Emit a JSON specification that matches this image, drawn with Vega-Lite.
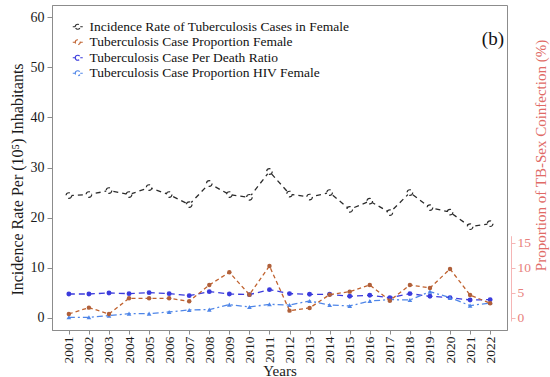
{
  "$schema": "https://vega.github.io/schema/vega-lite/v6.json",
  "width": 455,
  "height": 325,
  "autosize": {"type": "none"},
  "padding": {"left": 52, "top": 5, "right": 43, "bottom": 47},
  "background": "white",
  "config": {
    "font": "Liberation Serif",
    "view": {"stroke": "#8c8c8c", "strokeWidth": 1},
    "axis": {"labelFont": "Liberation Serif", "titleFont": "Liberation Serif", "titleFontWeight": "normal", "grid": false, "domainColor": "#8c8c8c", "tickColor": "#8c8c8c", "labelColor": "#1a1a1a", "titleColor": "#1a1a1a"},
    "legend": {"labelFont": "Liberation Serif", "titleFont": "Liberation Serif"}
  },
  "title": {"text": "(b)", "anchor": "end", "frame": "group", "orient": "top", "offset": -44, "dx": -3, "fontSize": 19, "font": "Liberation Serif", "fontWeight": "normal", "color": "#111111"},
  "data": {"values": [
    {"year": 2001, "series": "Incidence Rate of Tuberculosis Cases in Female", "value": 24.4},
    {"year": 2002, "series": "Incidence Rate of Tuberculosis Cases in Female", "value": 24.6},
    {"year": 2003, "series": "Incidence Rate of Tuberculosis Cases in Female", "value": 25.4},
    {"year": 2004, "series": "Incidence Rate of Tuberculosis Cases in Female", "value": 24.6},
    {"year": 2005, "series": "Incidence Rate of Tuberculosis Cases in Female", "value": 26.0},
    {"year": 2006, "series": "Incidence Rate of Tuberculosis Cases in Female", "value": 24.6},
    {"year": 2007, "series": "Incidence Rate of Tuberculosis Cases in Female", "value": 22.6},
    {"year": 2008, "series": "Incidence Rate of Tuberculosis Cases in Female", "value": 26.8},
    {"year": 2009, "series": "Incidence Rate of Tuberculosis Cases in Female", "value": 24.6},
    {"year": 2010, "series": "Incidence Rate of Tuberculosis Cases in Female", "value": 24.05},
    {"year": 2011, "series": "Incidence Rate of Tuberculosis Cases in Female", "value": 29.2},
    {"year": 2012, "series": "Incidence Rate of Tuberculosis Cases in Female", "value": 24.7},
    {"year": 2013, "series": "Incidence Rate of Tuberculosis Cases in Female", "value": 24.1},
    {"year": 2014, "series": "Incidence Rate of Tuberculosis Cases in Female", "value": 25.0},
    {"year": 2015, "series": "Incidence Rate of Tuberculosis Cases in Female", "value": 21.65},
    {"year": 2016, "series": "Incidence Rate of Tuberculosis Cases in Female", "value": 23.3},
    {"year": 2017, "series": "Incidence Rate of Tuberculosis Cases in Female", "value": 21.0},
    {"year": 2018, "series": "Incidence Rate of Tuberculosis Cases in Female", "value": 25.0},
    {"year": 2019, "series": "Incidence Rate of Tuberculosis Cases in Female", "value": 22.0},
    {"year": 2020, "series": "Incidence Rate of Tuberculosis Cases in Female", "value": 21.1},
    {"year": 2021, "series": "Incidence Rate of Tuberculosis Cases in Female", "value": 18.2},
    {"year": 2022, "series": "Incidence Rate of Tuberculosis Cases in Female", "value": 18.8},
    {"year": 2001, "series": "Tuberculosis Case Proportion Female", "value": 0.8},
    {"year": 2002, "series": "Tuberculosis Case Proportion Female", "value": 2.06},
    {"year": 2003, "series": "Tuberculosis Case Proportion Female", "value": 0.8},
    {"year": 2004, "series": "Tuberculosis Case Proportion Female", "value": 3.92},
    {"year": 2005, "series": "Tuberculosis Case Proportion Female", "value": 3.92},
    {"year": 2006, "series": "Tuberculosis Case Proportion Female", "value": 3.92},
    {"year": 2007, "series": "Tuberculosis Case Proportion Female", "value": 3.32},
    {"year": 2008, "series": "Tuberculosis Case Proportion Female", "value": 6.58},
    {"year": 2009, "series": "Tuberculosis Case Proportion Female", "value": 9.1},
    {"year": 2010, "series": "Tuberculosis Case Proportion Female", "value": 4.65},
    {"year": 2011, "series": "Tuberculosis Case Proportion Female", "value": 10.36},
    {"year": 2012, "series": "Tuberculosis Case Proportion Female", "value": 1.46},
    {"year": 2013, "series": "Tuberculosis Case Proportion Female", "value": 2.0},
    {"year": 2014, "series": "Tuberculosis Case Proportion Female", "value": 4.65},
    {"year": 2015, "series": "Tuberculosis Case Proportion Female", "value": 5.25},
    {"year": 2016, "series": "Tuberculosis Case Proportion Female", "value": 6.58},
    {"year": 2017, "series": "Tuberculosis Case Proportion Female", "value": 3.45},
    {"year": 2018, "series": "Tuberculosis Case Proportion Female", "value": 6.58},
    {"year": 2019, "series": "Tuberculosis Case Proportion Female", "value": 5.98},
    {"year": 2020, "series": "Tuberculosis Case Proportion Female", "value": 9.77},
    {"year": 2021, "series": "Tuberculosis Case Proportion Female", "value": 4.58},
    {"year": 2022, "series": "Tuberculosis Case Proportion Female", "value": 2.92},
    {"year": 2001, "series": "Tuberculosis Case Per Death Ratio", "value": 4.78},
    {"year": 2002, "series": "Tuberculosis Case Per Death Ratio", "value": 4.78},
    {"year": 2003, "series": "Tuberculosis Case Per Death Ratio", "value": 4.98},
    {"year": 2004, "series": "Tuberculosis Case Per Death Ratio", "value": 4.85},
    {"year": 2005, "series": "Tuberculosis Case Per Death Ratio", "value": 5.05},
    {"year": 2006, "series": "Tuberculosis Case Per Death Ratio", "value": 4.85},
    {"year": 2007, "series": "Tuberculosis Case Per Death Ratio", "value": 4.45},
    {"year": 2008, "series": "Tuberculosis Case Per Death Ratio", "value": 5.25},
    {"year": 2009, "series": "Tuberculosis Case Per Death Ratio", "value": 4.78},
    {"year": 2010, "series": "Tuberculosis Case Per Death Ratio", "value": 4.65},
    {"year": 2011, "series": "Tuberculosis Case Per Death Ratio", "value": 5.65},
    {"year": 2012, "series": "Tuberculosis Case Per Death Ratio", "value": 4.85},
    {"year": 2013, "series": "Tuberculosis Case Per Death Ratio", "value": 4.72},
    {"year": 2014, "series": "Tuberculosis Case Per Death Ratio", "value": 4.72},
    {"year": 2015, "series": "Tuberculosis Case Per Death Ratio", "value": 4.32},
    {"year": 2016, "series": "Tuberculosis Case Per Death Ratio", "value": 4.52},
    {"year": 2017, "series": "Tuberculosis Case Per Death Ratio", "value": 4.05},
    {"year": 2018, "series": "Tuberculosis Case Per Death Ratio", "value": 4.85},
    {"year": 2019, "series": "Tuberculosis Case Per Death Ratio", "value": 4.32},
    {"year": 2020, "series": "Tuberculosis Case Per Death Ratio", "value": 4.05},
    {"year": 2021, "series": "Tuberculosis Case Per Death Ratio", "value": 3.59},
    {"year": 2022, "series": "Tuberculosis Case Per Death Ratio", "value": 3.65},
    {"year": 2001, "series": "Tuberculosis Case Proportion HIV Female", "value": 0.13},
    {"year": 2002, "series": "Tuberculosis Case Proportion HIV Female", "value": 0.13},
    {"year": 2003, "series": "Tuberculosis Case Proportion HIV Female", "value": 0.46},
    {"year": 2004, "series": "Tuberculosis Case Proportion HIV Female", "value": 0.86},
    {"year": 2005, "series": "Tuberculosis Case Proportion HIV Female", "value": 0.86},
    {"year": 2006, "series": "Tuberculosis Case Proportion HIV Female", "value": 1.2},
    {"year": 2007, "series": "Tuberculosis Case Proportion HIV Female", "value": 1.6},
    {"year": 2008, "series": "Tuberculosis Case Proportion HIV Female", "value": 1.66},
    {"year": 2009, "series": "Tuberculosis Case Proportion HIV Female", "value": 2.66},
    {"year": 2010, "series": "Tuberculosis Case Proportion HIV Female", "value": 2.19},
    {"year": 2011, "series": "Tuberculosis Case Proportion HIV Female", "value": 2.72},
    {"year": 2012, "series": "Tuberculosis Case Proportion HIV Female", "value": 2.59},
    {"year": 2013, "series": "Tuberculosis Case Proportion HIV Female", "value": 3.39},
    {"year": 2014, "series": "Tuberculosis Case Proportion HIV Female", "value": 2.59},
    {"year": 2015, "series": "Tuberculosis Case Proportion HIV Female", "value": 2.39},
    {"year": 2016, "series": "Tuberculosis Case Proportion HIV Female", "value": 3.39},
    {"year": 2017, "series": "Tuberculosis Case Proportion HIV Female", "value": 3.65},
    {"year": 2018, "series": "Tuberculosis Case Proportion HIV Female", "value": 3.59},
    {"year": 2019, "series": "Tuberculosis Case Proportion HIV Female", "value": 5.25},
    {"year": 2020, "series": "Tuberculosis Case Proportion HIV Female", "value": 4.05},
    {"year": 2021, "series": "Tuberculosis Case Proportion HIV Female", "value": 2.46},
    {"year": 2022, "series": "Tuberculosis Case Proportion HIV Female", "value": 2.99}
  ]},
  "encoding": {
    "x": {
      "field": "year", "type": "quantitative",
      "scale": {"domain": [2000.16, 2022.84], "nice": false, "zero": false},
      "axis": {"values": [2001, 2002, 2003, 2004, 2005, 2006, 2007, 2008, 2009, 2010, 2011, 2012, 2013, 2014, 2015, 2016, 2017, 2018, 2019, 2020, 2021, 2022], "format": "d", "labelAngle": -90, "labelAlign": "right", "labelBaseline": "middle", "labelFont": "Liberation Serif", "labelFontSize": 13.5, "tickSize": 4, "labelPadding": 2, "title": "Years", "titleFont": "Liberation Serif", "titleFontSize": 15, "titlePadding": 0}
    },
    "color": {
      "field": "series", "type": "nominal",
      "scale": {
        "domain": ["Incidence Rate of Tuberculosis Cases in Female", "Tuberculosis Case Proportion Female", "Tuberculosis Case Per Death Ratio", "Tuberculosis Case Proportion HIV Female"],
        "range": ["#2b2b2b", "#c0622f", "#3b3bdc", "#4f86e8"]
      },
      "legend": {
        "orient": "none", "legendX": 19, "legendY": 15, "title": null,
        "labelFont": "Liberation Serif", "labelFontSize": 13.5, "labelColor": "#111111", "labelLimit": 400,
        "symbolType": "M-1,0H-0.5M0.5,0H1M-0.5,0A0.5,0.5 0 1,1 0.5,0A0.5,0.5 0 1,1 -0.5,0",
        "symbolSize": 100, "symbolStrokeWidth": 1.2, "rowPadding": 0.5, "labelOffset": 5, "padding": 0,
        "encode": {"symbols": {"update": {"strokeDash": {"value": [40, 0]}}}}
      }
    },
    "strokeDash": {
      "field": "series", "type": "nominal", "legend": null,
      "scale": {
        "domain": ["Incidence Rate of Tuberculosis Cases in Female", "Tuberculosis Case Proportion Female", "Tuberculosis Case Per Death Ratio", "Tuberculosis Case Proportion HIV Female"],
        "range": [[5, 4], [4, 3], [6, 4], [6, 3, 2, 3]]
      }
    }
  },
  "layer": [
    {
      "encoding": {
        "y": {
          "field": "value", "type": "quantitative",
          "scale": {"domain": [-2.4, 62.4], "nice": false, "zero": false},
          "axis": {"orient": "left", "values": [0, 10, 20, 30, 40, 50, 60], "labelFont": "Liberation Serif", "labelFontSize": 14, "tickSize": 5, "labelPadding": 3, "title": "Incidence Rate Per (10⁵) Inhabitants", "titleFont": "Liberation Serif", "titleFontSize": 16, "titlePadding": 5, "titleY": 174}
        }
      },
      "layer": [
        {"transform": [{"filter": "datum.series !== 'Tuberculosis Case Proportion Female'"}], "mark": {"type": "line", "strokeWidth": 1.3}},
        {"transform": [{"filter": "datum.series === 'Incidence Rate of Tuberculosis Cases in Female'"}], "mark": {"type": "point", "shape": "circle", "size": 32, "filled": false, "fill": "white", "stroke": "#2b2b2b", "strokeWidth": 1.2, "opacity": 1}, "encoding": {"color": {"value": "#2b2b2b"}}},
        {"transform": [{"filter": "datum.series === 'Tuberculosis Case Per Death Ratio'"}], "mark": {"type": "point", "shape": "circle", "size": 24, "filled": true, "opacity": 1}, "encoding": {"color": {"value": "#3b3bdc"}}},
        {"transform": [{"filter": "datum.series === 'Tuberculosis Case Proportion HIV Female'"}], "mark": {"type": "point", "shape": "triangle-up", "size": 22, "filled": true, "opacity": 1}, "encoding": {"color": {"value": "#4f86e8"}}}
      ]
    },
    {
      "transform": [{"filter": "datum.series === 'Tuberculosis Case Proportion Female'"}],
      "encoding": {
        "y": {
          "field": "value", "type": "quantitative",
          "scale": {"domain": [-0.6, 16.4], "range": [315.97, 230.71], "nice": false, "zero": false},
          "axis": {"orient": "right", "offset": 4, "values": [0, 5, 10, 15], "domainColor": "#f5b5b5", "tickColor": "#f5b5b5", "labelColor": "#e8807c", "labelFont": "Liberation Serif", "labelFontSize": 13.5, "tickSize": 4, "labelPadding": 2, "title": "Proportion of TB-Sex Coinfection (%)", "titleFont": "Liberation Serif", "titleColor": "#e06a66", "titleFontSize": 15, "titleAngle": 270, "titleX": 29, "titleY": 150, "titleAlign": "center", "titleBaseline": "middle"}
        }
      },
      "layer": [
        {"mark": {"type": "line", "strokeWidth": 1.3}},
        {"mark": {"type": "point", "shape": "circle", "size": 20, "filled": true, "opacity": 1}, "encoding": {"color": {"value": "#b0603a"}}}
      ]
    }
  ],
  "resolve": {"scale": {"y": "independent"}}
}
